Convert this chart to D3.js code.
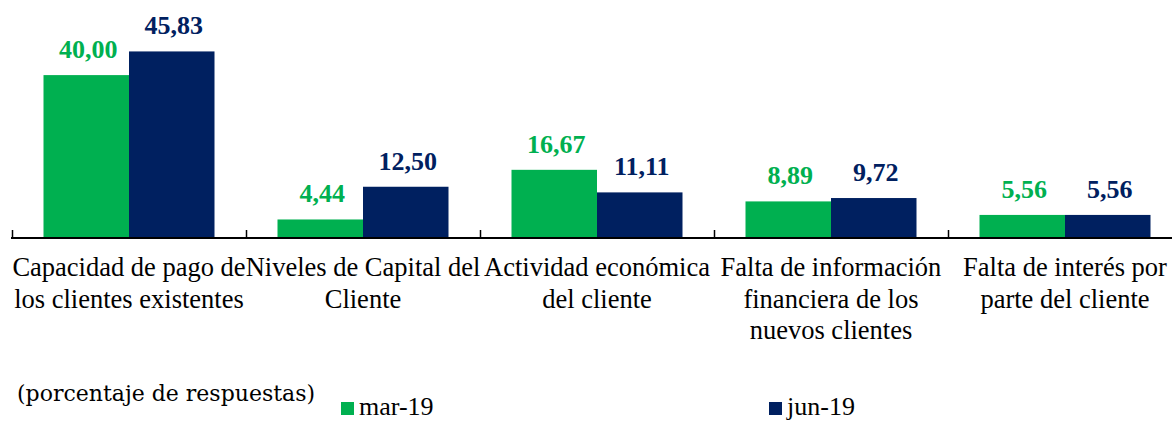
<!DOCTYPE html>
<html>
<head>
<meta charset="utf-8">
<script src="https://cdn.jsdelivr.net/npm/d3@7"></script>
<style>
	body { margin: 0; background: #fff; }
	svg { display: block; }
</style>
</head>
<body>
<svg id="chart" width="1172" height="421"></svg>
<script>
// categories (line breaks as in the original labels)
var categories = [
	'Capacidad de pago de\nlos clientes existentes',
	'Niveles de Capital del\nCliente',
	'Actividad económica\ndel cliente',
	'Falta de información\nfinanciera de los\nnuevos clientes',
	'Falta de interés por\nparte del cliente'
];
var seriesNames = ['mar-19', 'jun-19'];
var seriesColors = ['#00B050', '#002060'];
var mar19 = [40.00, 4.44, 16.67, 8.89, 5.56];
var jun19 = [45.83, 12.50, 11.11, 9.72, 5.56];
var yDomain = [0, 50];
var note = '(porcentaje de respuestas)';

var series = [mar19, jun19];
var svg = d3.select('#chart');
var timesFont = 'Liberation Serif';

var x0 = d3.scaleBand().domain(categories).range([12, 1182]).padding(0);
var x1 = d3.scaleBand().domain(seriesNames).range([31.5, 202.5]).padding(0);
var y = d3.scaleLinear().domain(yDomain).range([237.5, 34.5]);
var fmt = function (v) { return d3.format('.2f')(v).replace('.', ','); };

// bars
var groups = svg.append('g').selectAll('g')
	.data(categories).enter().append('g')
	.attr('transform', function (d) { return 'translate(' + x0(d) + ',0)'; });

seriesNames.forEach(function (name, s) {
	groups.append('rect')
		.attr('x', x1(name))
		.attr('width', x1.bandwidth())
		.attr('y', function (d, i) { return y(series[s][i]); })
		.attr('height', function (d, i) { return y(0) - y(series[s][i]); })
		.attr('fill', seriesColors[s]);

	groups.append('text')
		.attr('x', x1(name) + x1.bandwidth() / 2 + 2)
		.attr('y', function (d, i) { return y(series[s][i]) - 17; })
		.attr('text-anchor', 'middle')
		.attr('font-family', timesFont)
		.attr('font-weight', 'bold')
		.attr('font-size', 26)
		.attr('fill', seriesColors[s])
		.text(function (d, i) { return fmt(series[s][i]); });
});

// axis line with inside ticks at category boundaries
var bounds = d3.scaleLinear().domain([0, categories.length]).range(x0.range());
svg.append('g')
	.attr('transform', 'translate(0,' + 238 + ')')
	.call(d3.axisBottom(bounds).ticks(categories.length).tickSize(-8).tickFormat(''))
	.call(function (g) {
		g.select('.domain').attr('d', 'M11,0H1182').attr('stroke', '#000').attr('stroke-width', 2);
		g.selectAll('.tick line').attr('stroke', '#000').attr('stroke-width', 1.5);
	});

// category labels
groups.append('text')
	.attr('x', x0.bandwidth() / 2)
	.attr('y', 276)
	.attr('text-anchor', 'middle')
	.attr('font-family', timesFont)
	.attr('font-size', 26.5)
	.attr('fill', '#000')
	.selectAll('tspan')
	.data(function (d) { return d.split('\n'); })
	.enter().append('tspan')
	.attr('x', x0.bandwidth() / 2)
	.attr('dy', function (d, i) { return i ? 31.5 : 0; })
	.text(function (d) { return d; });

// note
svg.append('text')
	.attr('x', 17)
	.attr('y', 401)
	.attr('font-family', 'DejaVu Serif')
	.attr('font-size', 22)
	.attr('fill', '#000')
	.text(note);

// legend
var legendX = [341, 769];
var legend = svg.append('g').selectAll('g')
	.data(seriesNames).enter().append('g')
	.attr('transform', function (d, i) { return 'translate(' + legendX[i] + ',402)'; });
legend.append('rect')
	.attr('width', 13).attr('height', 13)
	.attr('fill', function (d, i) { return seriesColors[i]; });
legend.append('text')
	.attr('x', 18)
	.attr('y', 13)
	.attr('font-family', timesFont)
	.attr('font-size', 26)
	.attr('fill', '#000')
	.text(function (d) { return d; });
</script>
</body>
</html>
